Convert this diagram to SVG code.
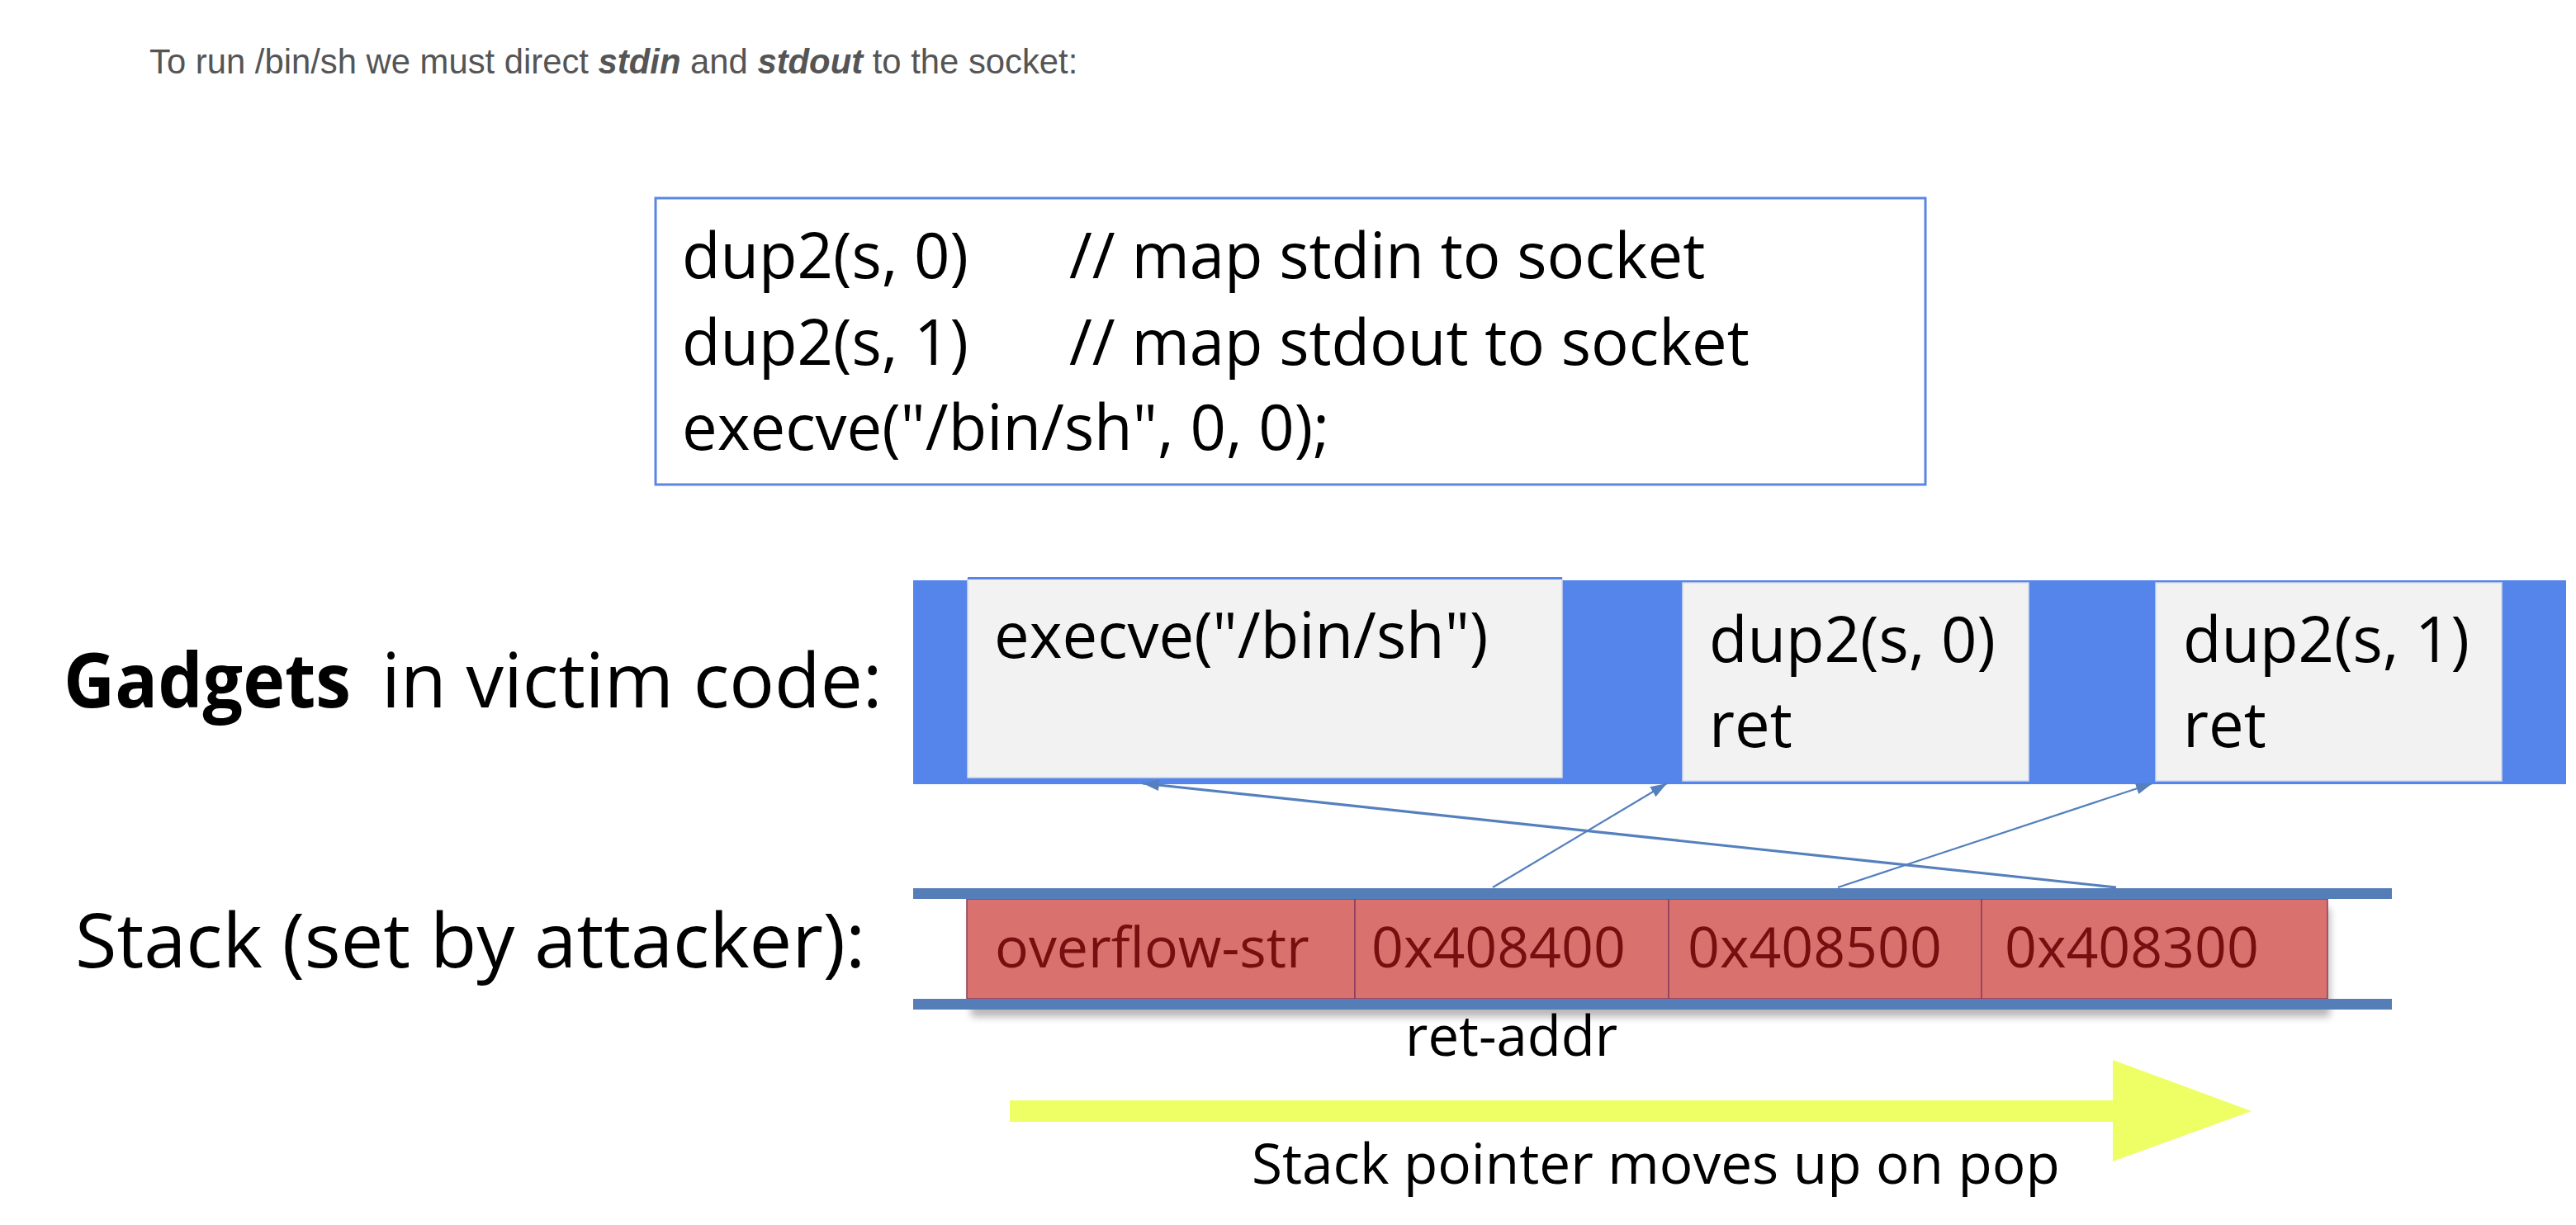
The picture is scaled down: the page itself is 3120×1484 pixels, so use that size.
<svg xmlns="http://www.w3.org/2000/svg" width="3120" height="1484" viewBox="0 0 3120 1484">
  <style>
    .cal { font-family: "Open Sans", "Liberation Sans", sans-serif; fill: #000000; }
    .code { font-size: 76px; }
    .cell { font-size: 68px; fill: #761010; }
    .label { font-size: 91px; }
    .gbox { fill: #F2F2F2; stroke: #D3DAEA; stroke-width: 1.5; }
    .bar { fill: #557DB8; }
    .cellbox { fill: #D9726E; stroke: #8E3D5C; stroke-width: 1.5; }
    .conn { fill: none; stroke: #5580BD; }
  </style>
  <defs>
    <marker id="ah" markerUnits="userSpaceOnUse" viewBox="0 0 20 14" refX="20" refY="7" markerWidth="20" markerHeight="14" orient="auto">
      <path d="M0,0 L20,7 L0,14 z" fill="#5580BD"/>
    </marker>
    <filter id="shadow" x="-5%" y="-20%" width="110%" height="140%">
      <feGaussianBlur stdDeviation="5"/>
    </filter>
  </defs>

  <rect x="0" y="0" width="3120" height="1484" fill="#FFFFFF"/>

  <g id="intro">
    <text x="181" y="89" font-family="'Liberation Sans', Arial, sans-serif" font-size="41.8" fill="#555555">To run /bin/sh we must direct <tspan font-weight="bold" font-style="italic">stdin</tspan> and <tspan font-weight="bold" font-style="italic">stdout</tspan> to the socket:</text>
  </g>

  <g id="code-box">
    <rect x="794" y="240" width="1538" height="347" fill="#FFFFFF" stroke="#5B87E3" stroke-width="3"/>
    <text class="cal code" x="826" y="337">dup2(s, 0)</text>
    <text class="cal code" x="1295" y="337">// map stdin to socket</text>
    <text class="cal code" x="826" y="442">dup2(s, 1)</text>
    <text class="cal code" x="1295" y="442">// map stdout to socket</text>
    <text class="cal code" x="826" y="545">execve("/bin/sh", 0, 0);</text>
  </g>

  <g id="gadgets-label">
    <text class="cal label" x="77" y="857" font-weight="bold" textLength="348" lengthAdjust="spacingAndGlyphs">Gadgets</text>
    <text class="cal label" x="462" y="857">in victim code:</text>
  </g>

  <g id="gadget-band">
    <rect x="1106" y="703" width="2002" height="247" fill="#5585EA"/>
  </g>
  <g id="gadget-execve">
    <rect class="gbox" x="1172" y="701" width="720" height="241"/>
    <rect x="1172" y="699" width="720" height="3" fill="#5585EA"/>
    <text class="cal code" x="1204" y="797">execve("/bin/sh")</text>
  </g>
  <g id="gadget-dup2-0">
    <rect class="gbox" x="2038" y="706" width="419" height="240"/>
    <text class="cal code" x="2070" y="802">dup2(s, 0)</text>
    <text class="cal code" x="2070" y="905">ret</text>
  </g>
  <g id="gadget-dup2-1">
    <rect class="gbox" x="2611" y="706" width="419" height="240"/>
    <text class="cal code" x="2644" y="802">dup2(s, 1)</text>
    <text class="cal code" x="2644" y="905">ret</text>
  </g>

  <g id="stack-label">
    <text class="cal" x="91" y="1172" style="font-size:92px">Stack (set by attacker):</text>
  </g>

  <g id="stack">
    <rect x="1176" y="1100" width="1646" height="132" fill="#000000" opacity="0.28" filter="url(#shadow)"/>
  </g>
  <g id="cell-overflow">
    <rect class="cellbox" x="1171" y="1089" width="470" height="121"/>
    <text class="cal cell" x="1205" y="1172">overflow-str</text>
  </g>
  <g id="cell-408400">
    <rect class="cellbox" x="1641" y="1089" width="380" height="121"/>
    <text class="cal cell" x="1661" y="1172">0x408400</text>
  </g>
  <g id="cell-408500">
    <rect class="cellbox" x="2021" y="1089" width="379" height="121"/>
    <text class="cal cell" x="2044" y="1172">0x408500</text>
  </g>
  <g id="cell-408300">
    <rect class="cellbox" x="2400" y="1089" width="419" height="121"/>
    <text class="cal cell" x="2428" y="1172">0x408300</text>
  </g>
  <g id="stack-bars">
    <rect x="1106" y="1076" width="1791" height="13" class="bar"/>
    <rect x="1106" y="1210" width="1791" height="13" class="bar"/>
  </g>

  <g id="ret-addr-label">
    <text class="cal" x="1702" y="1279" style="font-size:67px">ret-addr</text>
  </g>

  <g id="sp-arrow">
    <polygon points="1223,1333 2559,1333 2559,1284 2727,1346 2559,1407 2559,1359 1223,1359" fill="#EEFF66"/>
    <text class="cal" x="1516" y="1434" style="font-size:67.5px">Stack pointer moves up on pop</text>
  </g>

  <g id="connectors">
    <path class="conn" d="M1808,1075 L2019,949" stroke-width="2.2" marker-end="url(#ah)"/>
    <path class="conn" d="M2226,1075 L2607,949" stroke-width="2.2" marker-end="url(#ah)"/>
    <path class="conn" d="M2563,1075 L1384,949" stroke-width="3.2" marker-end="url(#ah)"/>
  </g>
</svg>
